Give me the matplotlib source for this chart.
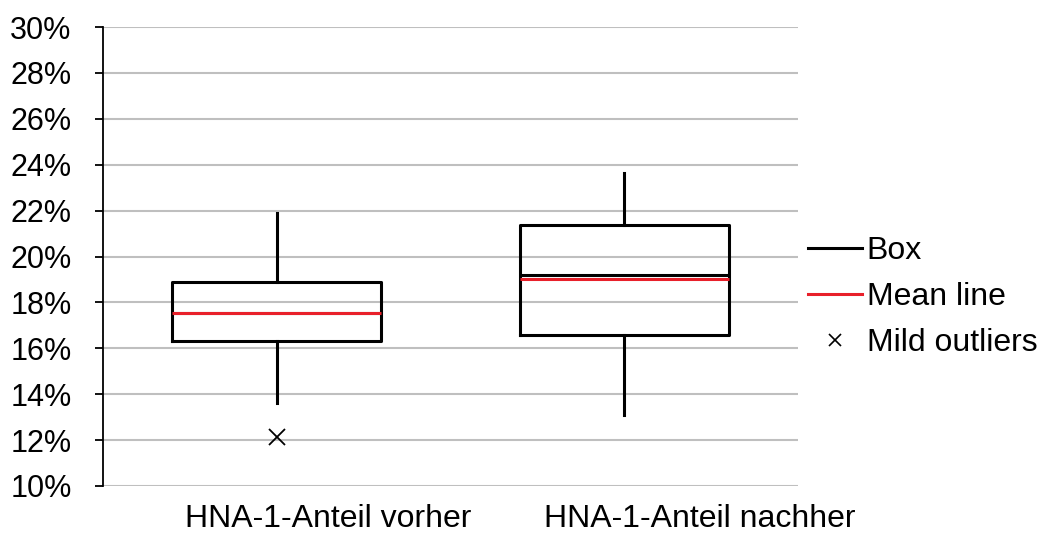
import matplotlib.pyplot as plt
from matplotlib.lines import Line2D
from matplotlib.ticker import FuncFormatter
from matplotlib.transforms import ScaledTranslation

plt.rcParams['font.family'] = ['Liberation Sans', 'DejaVu Sans']

# Données (en %)
categories = ['HNA-1-Anteil vorher', 'HNA-1-Anteil nachher']
whisker_low = [13.6, 13.08]
q1 = [16.32, 16.6]
median = [17.56, 19.19]
mean = [17.56, 19.0]
q3 = [18.88, 21.39]
whisker_high = [21.9, 23.64]
outliers = [[12.14], []]

stats = []
for i, cat in enumerate(categories):
    stats.append({
        'label': cat,
        'whislo': whisker_low[i],
        'q1': q1[i],
        'med': median[i],
        'mean': mean[i],
        'q3': q3[i],
        'whishi': whisker_high[i],
        'fliers': outliers[i],
    })

fig = plt.figure(figsize=(10.39, 5.33), dpi=100)
ax = fig.add_axes([0.0991, 0.0882, 0.669, 0.8611])

lw = 2.2
ax.bxp(
    stats,
    positions=[1, 2],
    widths=0.6,
    showmeans=True,
    meanline=True,
    showcaps=False,
    boxprops=dict(color='black', linewidth=lw),
    medianprops=dict(color='black', linewidth=lw),
    meanprops=dict(color='#E8202A', linewidth=2.2, linestyle='-'),
    whiskerprops=dict(color='black', linewidth=lw),
    flierprops=dict(marker='x', markeredgecolor='black', markersize=11, markeredgewidth=1.3),
    zorder=3,
)

ax.set_xlim(0.5, 2.5)
ax.set_ylim(10, 30)
ax.set_yticks(range(10, 31, 2))
ax.yaxis.set_major_formatter(FuncFormatter(lambda v, p: f'{v:.0f}%'))
ax.set_xticks([1, 2])
ax.set_xticklabels(categories)

ax.grid(axis='y', color='#BFBFBF', linewidth=1.5, zorder=0)
ax.set_axisbelow(True)
for s in ['top', 'right', 'bottom']:
    ax.spines[s].set_visible(False)
ax.spines['left'].set_linewidth(1.3)
ax.tick_params(axis='y', length=6, width=1.3, labelsize=22, pad=16.5)
ax.tick_params(axis='x', length=0, labelsize=23, pad=13)

# Les étiquettes de catégorie sont décalées vers la droite dans l'original
for lab, dx in zip(ax.get_xticklabels(), [51, 75]):
    lab.set_transform(lab.get_transform() + ScaledTranslation(dx / 100, 0, fig.dpi_scale_trans))

# Légende à l'extérieur
handles = [
    Line2D([], [], color='black', linewidth=2.2),
    Line2D([], [], color='#E8202A', linewidth=2.2),
    Line2D([], [], color='black', marker='x', linestyle='None', markersize=8, markeredgewidth=1.2),
]
ax.legend(handles, ['Box', 'Mean line', 'Mild outliers'], loc='center left',
          bbox_to_anchor=(1.0, 0.412), frameon=False, fontsize=23,
          handlelength=1.69, handletextpad=0.16, labelspacing=0.5,
          borderpad=0.3, borderaxespad=0.0)

fig.savefig('out.png', dpi=100)
